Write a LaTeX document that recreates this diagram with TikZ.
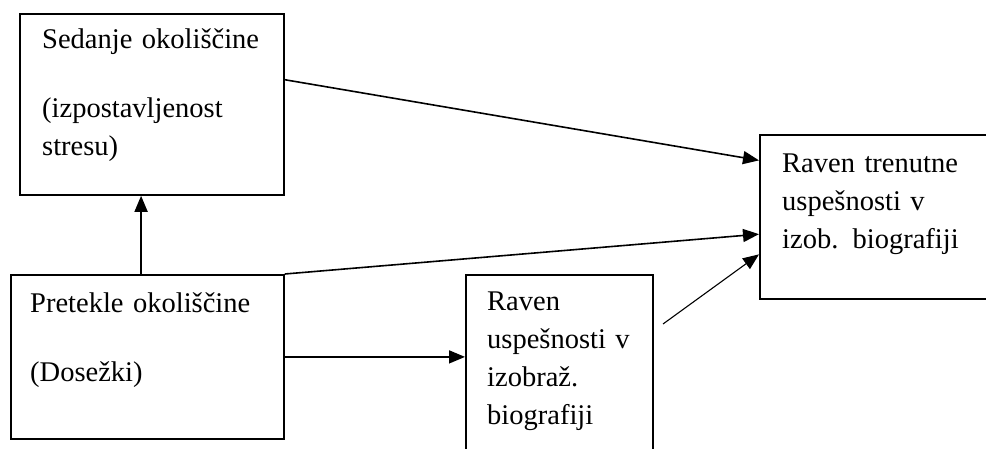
\documentclass[tikz,border=0pt]{standalone}
\usepackage{fontspec}
\setmainfont{Liberation Serif}
\usetikzlibrary{calc,arrows.meta}

\tikzstyle{box}=[draw, line width=1.8pt, rectangle, inner sep=0pt, anchor=north west]
\tikzstyle{txt}=[inner sep=0pt, anchor=base west, align=left, font=\fontsize{28.5}{38}\selectfont]
\tikzstyle{pil}=[line width=1.6pt, -{Triangle[length=16pt,width=13pt]}]

\begin{document}
\begin{tikzpicture}[x=1pt,y=-1pt]
\clip (0,0) rectangle (986,448);
% okvirji
\node [box, minimum width=264pt, minimum height=181pt] (sedanje) at (19,13) {};
\node [box, minimum width=273pt, minimum height=164pt] (pretekle) at (10,274) {};
\node [box, minimum width=187pt, minimum height=200pt] (raven) at (465,274) {};
\node [box, minimum width=260pt, minimum height=164pt] (trenutne) at (759,134) {};
% besedila
\node [txt, text width=235pt] (sedanjetxt) at (42,48) {Sedanje okoliščine\\[31pt](izpostavljenost\\stresu)};
\node [txt, text width=245pt] (pretekletxt) at (30,312) {Pretekle okoliščine\\[31pt](Dosežki)};
\node [txt, text width=160pt] (raventxt) at (487,310) {Raven\\uspešnosti v\\izobraž.\\biografiji};
\node [txt, text width=190pt] (trenutnetxt) at (782,172) {Raven trenutne\\uspešnosti v\\izob. biografiji};
% puscice
\coordinate (gor) at ($(pretekle.north west)!0.477!(pretekle.north east)$);
\coordinate (prosti) at (663,324);
\draw [pil] ($(sedanje.north east)!0.365!(sedanje.south east)$) -- ($(trenutne.north west)!0.159!(trenutne.south west)$);
\draw [pil] (pretekle.north east) -- ($(trenutne.north west)!0.604!(trenutne.south west)$);
\draw [pil] (pretekle.east) -- (pretekle.east -| raven.west);
\draw [pil] (gor) -- (gor |- sedanje.south);
\draw [pil, line width=1.1pt] (prosti) -- ($(trenutne.north west)!0.726!(trenutne.south west)$);
\end{tikzpicture}
\end{document}
